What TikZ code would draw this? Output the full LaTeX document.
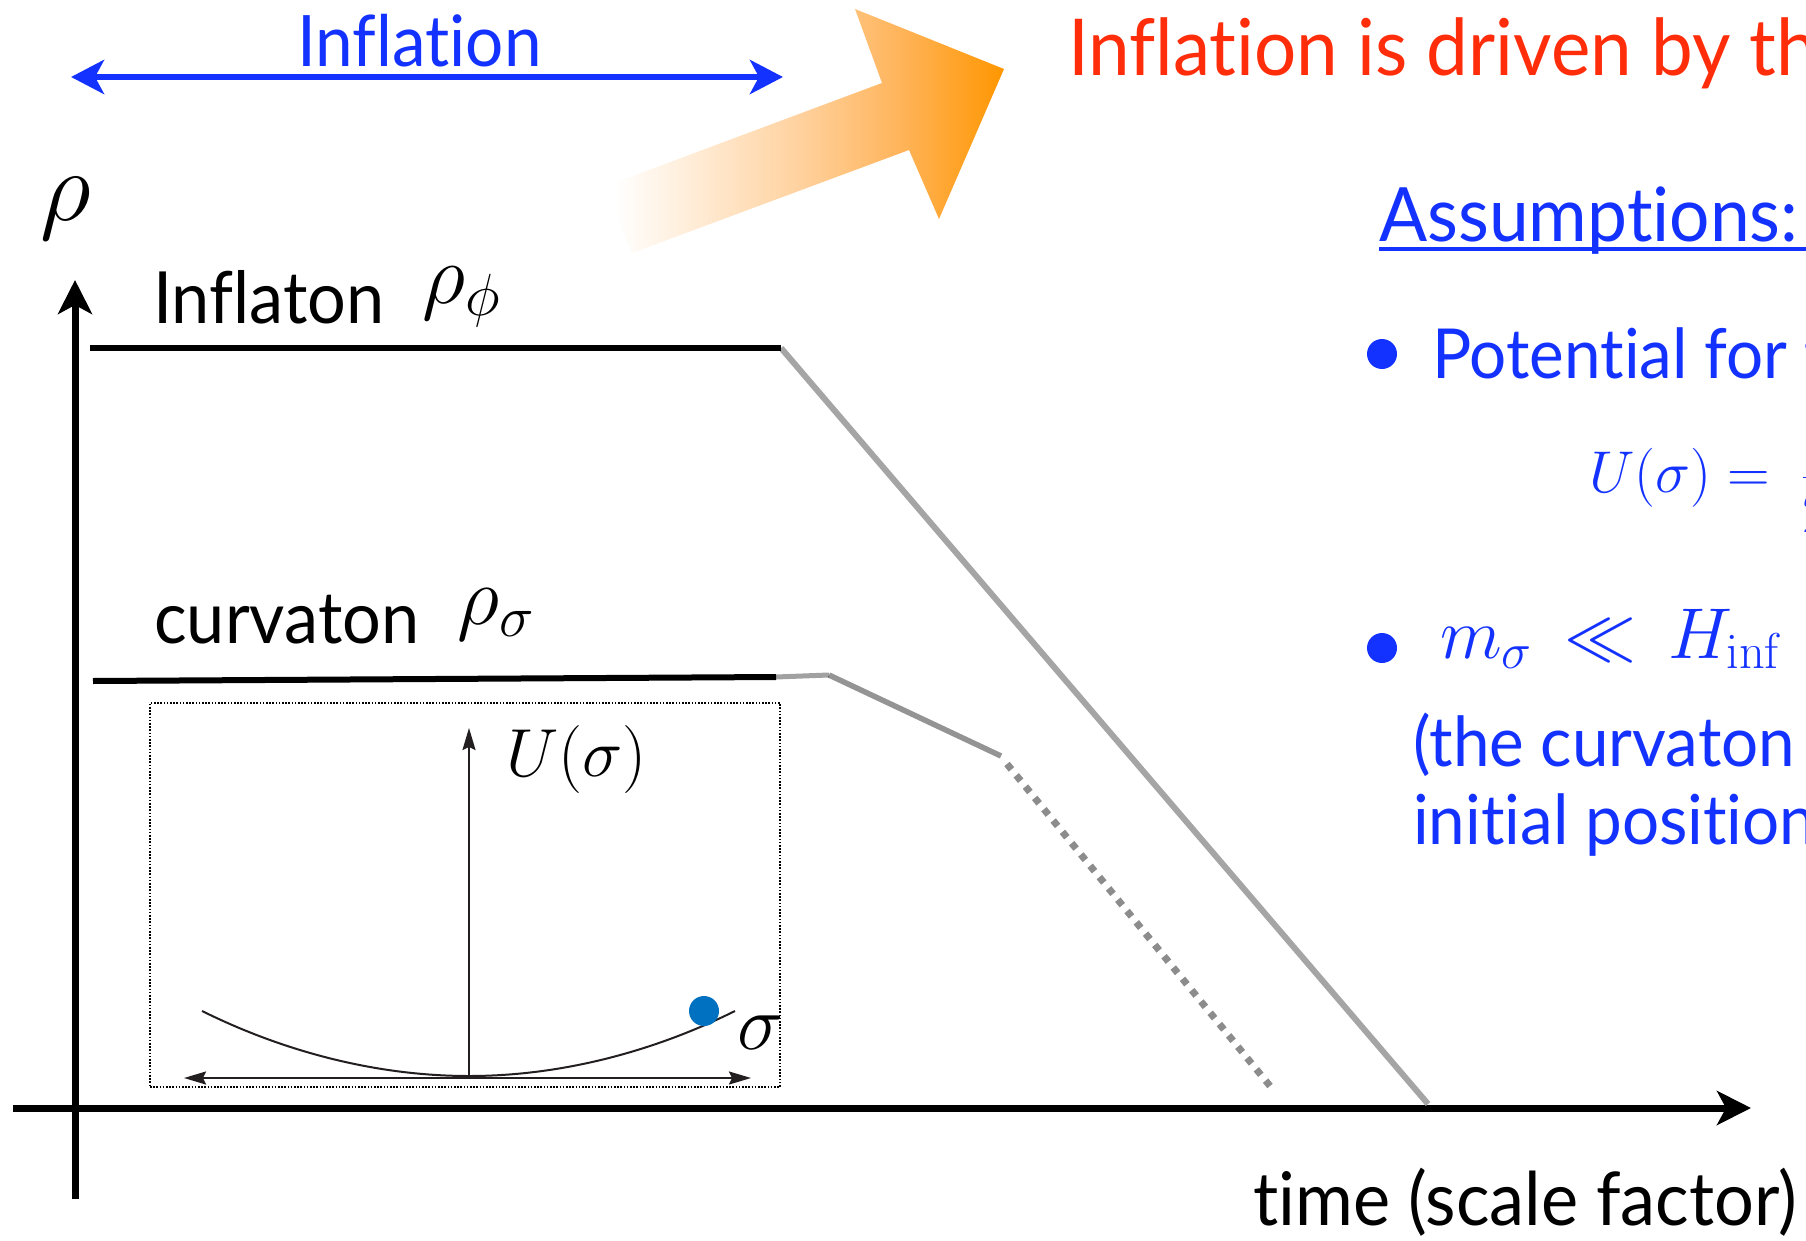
\RequirePackage{fix-cm}
\documentclass[tikz,border=0pt]{standalone}
\usepackage[no-math]{fontspec}
\setmainfont{Lato}[FakeStretch=0.95, Ligatures=NoCommon]
\usetikzlibrary{arrows.meta}
\definecolor{tblue}{RGB}{20,50,255}
\definecolor{tred}{RGB}{255,45,10}
\definecolor{lgray}{RGB}{165,165,165}
\definecolor{ink}{RGB}{35,31,32}
\definecolor{ballc}{RGB}{0,112,192}
\definecolor{orA}{RGB}{255,236,214}
\definecolor{orB}{RGB}{255,210,160}
\definecolor{orC}{RGB}{255,180,90}
\definecolor{orD}{RGB}{255,150,0}
\pgfdeclarehorizontalshading{orfade}{100bp}{color(0bp)=(white); color(26bp)=(white); color(36bp)=(orA); color(49bp)=(orB); color(62bp)=(orC); color(75bp)=(orD); color(100bp)=(orD)}
\newcommand\fsz[1]{\fontsize{#1}{#1}\selectfont}
\tikzset{
  lbl/.style={inner sep=0pt, anchor=base west},
  axisline/.style={line width=7pt, -{Stealth[length=34pt,width=34pt,inset=9pt]}},
  bluearrow/.style={tblue, line width=6.5pt, {Stealth[length=33pt,width=34pt,inset=9pt]}-{Stealth[length=33pt,width=34pt,inset=9pt]}},
  blackline/.style={line width=6pt},
  greyline/.style={line width=6pt, lgray},
  fadeline/.style={line width=5.5pt, black, opacity=0.42},
  insetline/.style={ink, line width=2pt},
  bulletdot/.style={circle, fill=tblue, minimum size=30pt, inner sep=0pt}
}
\begin{document}
\begin{tikzpicture}[x=1pt,y=-1pt]
\useasboundingbox (0,0) rectangle (1806,1241);
\clip (0,0) rectangle (1806,1241);
\fill[white] (0,0) rectangle (1806,1241);

% top blue inflation arrow
\node[lbl, tblue, font=\fsz{71}] (inflbl) at (297,67) {Inflation};
\coordinate (infL) at (71,77);
\coordinate (infR) at (783,77);
\draw[bluearrow] (infL) -- (infR);

% orange arrow
\shade[shading=orfade] (606,186) -- (882,83) -- (855,9) -- (1004,69) -- (939,219) -- (909,150) -- (632,253) -- cycle;

% red title
\node[lbl, tred, font=\fsz{78.5}] (drive) at (1068,76) {Inflation is driven by th};

% axes
\coordinate (yb) at (75,1199);
\coordinate (yt) at (75,280);
\coordinate (xl) at (13,1108);
\coordinate (xr) at (1751,1108);
\draw[axisline] (yb) -- (yt);
\draw[axisline] (xl) -- (xr);
\node[lbl, font=\fsz{100}] (rho) at (40,221) {$\rho$};
\node[lbl, font=\fsz{74}] (tlbl) at (1253,1225) {time (scale factor)};

% inflaton
\node[lbl, font=\fsz{72}] (inflaton) at (153,323) {Inflaton};
\node[lbl, font=\fsz{85}] (rhophi) at (422,303) {$\rho_\phi$};
\coordinate (i1) at (90,348);
\coordinate (i2) at (781,348);
\coordinate (i3) at (1428,1104);
\draw[greyline] (i2) -- (i3);
\draw[blackline] (i1) -- (i2);

% curvaton
\node[lbl, font=\fsz{72}] (curv) at (154,643) {curvaton};
\node[lbl, font=\fsz{83}] (rhosig) at (457,624) {$\rho_\sigma$};
\coordinate (c1) at (93,681);
\coordinate (c2) at (776,677);
\coordinate (c3) at (829,675);
\coordinate (c4) at (1001,756);
\coordinate (c5) at (1007,764);
\coordinate (c6) at (1270,1086);
\draw[line width=5pt, black, opacity=0.37] (c2) -- (c3);
\draw[fadeline] (c3) -- (c4);
\draw[line width=7pt, black, opacity=0.45, dash pattern=on 7pt off 7.6pt] (c5) -- (c6);
\draw[blackline] (c1) -- (c2);

% inset
\node[draw=black, line width=1.6pt, dash pattern=on 1.6pt off 1.6pt, minimum width=630pt, minimum height=384pt, inner sep=0pt] (box) at (465,895) {};
\coordinate (ub) at (469,1076);
\coordinate (ut) at (469,728);
\coordinate (sl) at (184,1078);
\coordinate (sr) at (751,1078);
\draw[insetline, -{Stealth[length=22pt,width=13pt,inset=3pt]}] (ub) -- (ut);
\draw[insetline, {Stealth[length=22pt,width=13pt,inset=3pt]}-{Stealth[length=22pt,width=13pt,inset=3pt]}] (sl) -- (sr);
\coordinate (pl) at (202,1011);
\coordinate (pm) at (469,1076);
\coordinate (pr) at (735,1011);
\draw[insetline] (pl) parabola bend (pm) (pr);
\node[circle, fill=ballc, minimum size=30pt, inner sep=0pt] (ball) at (704,1011) {};
\node[lbl, font=\fsz{68}] (ulbl) at (506,776) {$U(\sigma)$};
\node[lbl, font=\fsz{78}] (siglbl) at (737,1049) {$\sigma$};

% right text block
\node[lbl, tblue, font=\fsz{75}] (assume) at (1379,242) {Assumptions:};
\coordinate (ulL) at (1379,249);
\coordinate (ulR) at (1806,249);
\draw[tblue, line width=4pt] (ulL) -- (ulR);
\node[bulletdot] (b1) at (1382,354) {};
\node[lbl, tblue, font=\fsz{69}] (pot) at (1432,378) {Potential for t};
\node[lbl, tblue, font=\fsz{59}] (ueq) at (1589,492) {$\displaystyle U(\sigma) = \hspace{15pt}\frac{1}{2}$};
\node[bulletdot] (b2) at (1382,648) {};
\node[lbl, tblue, font=\fsz{72}] (meq) at (1440,658) {$m_\sigma \,\ll\, H_{\rm inf}$};
\node[lbl, tblue, font=\fsz{69}] (paren1) at (1413,766) {(the curvaton};
\node[lbl, tblue, font=\fsz{69}] (paren2) at (1413,844) {initial position};
\end{tikzpicture}
\end{document}
